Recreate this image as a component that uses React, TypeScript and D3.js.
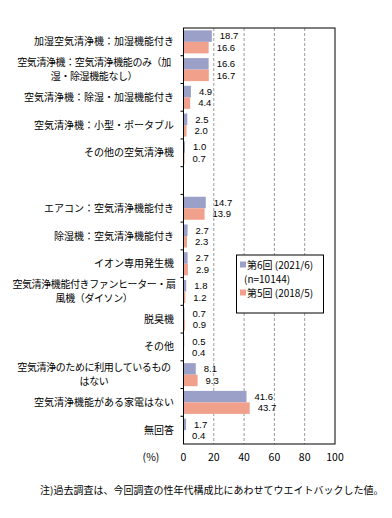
import React, { useEffect, useRef } from 'react'

import * as d3 from 'd3'

// categories ('' = empty spacer row)
const categories = [
  ['加湿空気清浄機：加湿機能付き'],
  ['空気清浄機：空気清浄機能のみ（加', '湿・除湿機能なし）'],
  ['空気清浄機：除湿・加湿機能付き'],
  ['空気清浄機：小型・ポータブル'],
  ['その他の空気清浄機'],
  [''],
  ['エアコン：空気清浄機能付き'],
  ['除湿機：空気清浄機能付き'],
  ['イオン専用発生機'],
  ['空気清浄機能付きファンヒーター・扇', '風機（ダイソン）'],
  ['脱臭機'],
  ['その他'],
  ['空気清浄のために利用しているもの', 'はない'],
  ['空気清浄機能がある家電はない'],
  ['無回答'],
]

const series6 = [18.7, 16.6, 4.9, 2.5, 1.0, null, 14.7, 2.7, 2.7, 1.8, 0.7, 0.5, 8.1, 41.6, 1.7]
const series5 = [16.6, 16.7, 4.4, 2.0, 0.7, null, 13.9, 2.3, 2.9, 1.2, 0.9, 0.4, 9.3, 43.7, 0.4]

const seriesNames = ['第6回 (2021/6)', '第5回 (2018/5)']
const xTicks = [0, 20, 40, 60, 80, 100]

const colors = ['#9aa0c8', '#f0a08b']
const font = '"Noto Sans CJK JP", "Noto Sans", sans-serif'
const numFont = '"Liberation Sans", Arial, sans-serif'

const Chart: React.FC = () => {
  const ref = useRef<SVGSVGElement | null>(null)

  useEffect(() => {
    const svg = d3.select(ref.current)
    svg.selectAll('*').remove()

    const left = 183.5
    const right = 335
    const top = 28
    const bottom = 444

    const x = d3.scaleLinear().domain([0, 100]).range([left, right])
    const idx = categories.map((_, i) => String(i))
    const y = d3.scaleBand().domain(idx).range([top, bottom]).paddingInner(0.17).paddingOuter(0.085)
    const inner = d3.scaleBand().domain(['0', '1']).range([0, y.bandwidth()])
    const step = y.step()

    // gridlines
    svg
      .append('g')
      .selectAll('line')
      .data(xTicks.slice(1, -1))
      .enter()
      .append('line')
      .attr('x1', (d) => x(d))
      .attr('x2', (d) => x(d))
      .attr('y1', top)
      .attr('y2', bottom)
      .attr('stroke', '#999')
      .attr('stroke-dasharray', '3,2')

    // bars
    const rows = svg
      .append('g')
      .selectAll('g')
      .data(idx)
      .enter()
      .append('g')
      .attr('transform', (d) => `translate(0,${y(d)})`)

    ;[series6, series5].forEach((s, si) => {
      rows
        .filter((d) => s[+d] != null)
        .append('rect')
        .attr('x', left)
        .attr('y', inner(String(si))!)
        .attr('width', (d) => x(s[+d] as number) - left)
        .attr('height', inner.bandwidth())
        .attr('fill', colors[si])

      rows
        .filter((d) => s[+d] != null)
        .append('text')
        .attr('x', (d) => x(s[+d] as number) + 8)
        .attr('y', inner(String(si))! + inner.bandwidth() / 2)
        .attr('dy', '0.35em')
        .attr('font-size', 9.5)
        .attr('font-family', numFont)
        .text((d) => (s[+d] as number).toFixed(1))
    })

    // frame
    svg
      .append('rect')
      .attr('x', left)
      .attr('y', top)
      .attr('width', right - left)
      .attr('height', bottom - top)
      .attr('fill', 'none')
      .attr('stroke', '#000')

    // left ticks on slot borders
    const tickYs = d3.range(1, categories.length).map((k) => top + k * step)
    svg
      .append('g')
      .selectAll('line')
      .data(tickYs)
      .enter()
      .append('line')
      .attr('x1', left - 3)
      .attr('x2', left)
      .attr('y1', (d) => d)
      .attr('y2', (d) => d)
      .attr('stroke', '#000')

    // category labels
    const labels = svg
      .append('g')
      .attr('font-size', 10)
      .attr('font-family', font)
      .selectAll('text')
      .data(categories.map((c, i) => ({ c, i })))
      .enter()
      .append('text')
      .attr('text-anchor', (d) => (d.c.length > 1 ? 'middle' : 'end'))
      .attr('letter-spacing', (d) => (d.c.length > 1 ? -0.4 : 0))
      .attr('y', (d) => top + d.i * step + step / 2 - ((d.c.length - 1) * 14) / 2)

    labels
      .selectAll('tspan')
      .data((d) => d.c.map((t, j) => ({ t, j, d })))
      .enter()
      .append('tspan')
      .attr('x', (t) => (t.d.c.length > 1 ? 94 : 174))
      .attr('dy', (t) => (t.j === 0 ? '0.35em' : 14))
      .text((t) => t.t)

    // x axis labels
    svg
      .append('g')
      .attr('font-size', 10.5)
      .attr('font-family', font)
      .selectAll('text')
      .data(xTicks)
      .enter()
      .append('text')
      .attr('x', (d) => x(d))
      .attr('y', 461)
      .attr('text-anchor', 'middle')
      .text((d) => d)

    svg
      .append('text')
      .attr('x', 151)
      .attr('y', 461)
      .attr('text-anchor', 'middle')
      .attr('font-size', 10.5)
      .attr('font-family', font)
      .text('(%)')

    // legend
    const lg = svg.append('g').attr('font-size', 10).attr('font-family', font)
    lg.append('rect')
      .attr('x', 236.5)
      .attr('y', 255)
      .attr('width', 87)
      .attr('height', 58)
      .attr('fill', '#fff')
      .attr('stroke', '#000')
    const legendRows = [
      { text: seriesNames[0], color: colors[0], yy: 265 },
      { text: '(n=10144)', color: null, yy: 279 },
      { text: seriesNames[1], color: colors[1], yy: 293 },
    ]
    legendRows.forEach((r) => {
      if (r.color) {
        lg.append('rect').attr('x', 240).attr('y', r.yy - 3.5).attr('width', 6).attr('height', 6).attr('fill', r.color)
      }
      lg.append('text')
        .attr('x', r.color ? 247 : 244)
        .attr('y', r.yy)
        .attr('dy', '0.35em')
        .text(r.text)
    })

    // footnote
    svg
      .append('text')
      .attr('x', 40)
      .attr('y', 494)
      .attr('font-size', 10)
      .attr('font-family', font)
      .text('注)過去調査は、今回調査の性年代構成比にあわせてウエイトバックした値。')
  }, [])

  return <svg ref={ref} width={392} height={518} style={{ display: 'block' }}></svg>
}

export default function App() {
  return (
    <div style={{ margin: -8 }}>
      <Chart />
    </div>
  )
}
